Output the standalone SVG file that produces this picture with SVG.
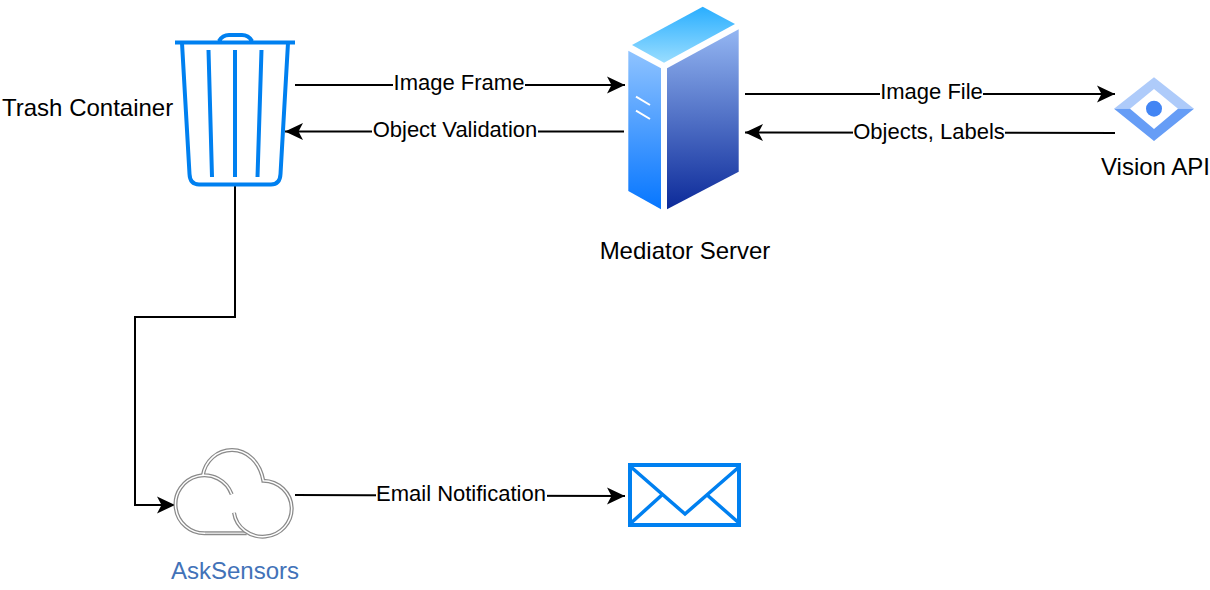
<svg xmlns="http://www.w3.org/2000/svg" width="1210" height="590" viewBox="0 0 1210 590">
<style>
text{font-family:"Liberation Sans",Arial,sans-serif;fill:#000}
.n{font-size:24px}
.l{font-size:22px;text-anchor:middle}
.c{fill:none;stroke:#000;stroke-width:2}
.b{fill:#fff}
.t{fill:none;stroke:#0080f0;stroke-width:4}
</style>
<defs>
<marker id="a" markerUnits="userSpaceOnUse" markerWidth="22" markerHeight="20" refX="20" refY="10" orient="auto"><path d="M20 10L2 1.500L6.500 10L2 18.500Z" fill="#000"/></marker>
<linearGradient id="g1" x1="0" y1="0" x2="0" y2="1"><stop offset="0" stop-color="#29aeff"/><stop offset="1" stop-color="#99ddff"/></linearGradient>
<linearGradient id="g2" x1="0" y1="0" x2="0" y2="1"><stop offset="0" stop-color="#8fc3ff"/><stop offset="1" stop-color="#0676ff"/></linearGradient>
<linearGradient id="g3" x1="0" y1="0" x2="0" y2="1"><stop offset="0" stop-color="#94b6f2"/><stop offset="1" stop-color="#0c2a99"/></linearGradient>
<path id="cl" d="M231.700 494.300A29 29 0 1 0 205 533.300M234 512.700A29 28 0 1 0 263.300 480.700C260 462 247 450 232 450C217 450 205 461 202.700 476"/>
</defs>
<g id="connectors">
<path class="c" marker-end="url(#a)" d="M295 85H625"/>
<path class="c" marker-end="url(#a)" d="M624 131.500H285"/>
<path class="c" marker-end="url(#a)" d="M745 94H1115"/>
<path class="c" marker-end="url(#a)" d="M1115 133L745 132.500"/>
<path class="c" marker-end="url(#a)" d="M235 185V317H135V505H175"/>
<path class="c" marker-end="url(#a)" d="M295 495L625 496"/>
</g>
<g id="labels">
<rect class="b" x="393" y="72" width="132" height="24"/><text class="l" x="459" y="90">Image Frame</text>
<rect class="b" x="372" y="118" width="166" height="24"/><text class="l" x="455" y="137">Object Validation</text>
<rect class="b" x="880" y="80" width="103" height="24"/><text class="l" x="931.500" y="99">Image File</text>
<rect class="b" x="853" y="121" width="152" height="24"/><text class="l" x="929" y="139">Objects, Labels</text>
<rect class="b" x="376" y="482" width="171" height="24"/><text class="l" x="461" y="501">Email Notification</text>
</g>
<g id="trash">
<path class="t" d="M175 42.500H295M219 41C222 36 225 35 229 35H242C246 35 249 36 252 41"/>
<path class="t" d="M182 43L189.500 174Q190 184.500 199 184.500H271Q280 184.500 280.500 174L288 43"/>
<path class="t" d="M208.500 50L212 177M235 50V177M261.500 50L257.500 177"/>
<text class="n" x="2" y="116">Trash Container</text>
</g>
<g id="server">
<path fill="url(#g1)" d="M632 45L702.700 6.700L735 24L664 62.700Z"/>
<path fill="url(#g2)" d="M628.300 50.700L661 68.300V209.300L628.300 191Z"/>
<path fill="url(#g3)" d="M667 68.300L738.700 29.300V171.700L667 209.300Z"/>
<path stroke="#fff" stroke-width="2" fill="none" d="M636 96.700L650 105M636 110.700L650 119"/>
<text class="n" x="685" y="259" text-anchor="middle">Mediator Server</text>
</g>
<g id="vision">
<path fill="#aecbfa" d="M1114 108.700L1154 77.300L1194 108.700H1178L1154 89L1130 108.700Z"/>
<path fill="#669df6" d="M1114 108.700H1130L1154 129L1178 108.700H1194L1154 141Z"/>
<circle cx="1154" cy="108.700" r="8" fill="#4285f4"/>
<text class="n" x="1155.500" y="175" text-anchor="middle">Vision API</text>
</g>
<g id="asksensors">
<path fill="none" stroke="#8a8a8a" stroke-width="4" d="M205 533.300H246.700"/>
<path fill="none" stroke="#dedede" stroke-width="1.500" d="M205 533.300H246.700"/>
<use href="#cl" fill="none" stroke="#8a8a8a" stroke-width="4"/>
<use href="#cl" fill="none" stroke="#fff" stroke-width="1.500"/>
<text class="n" x="235" y="579" text-anchor="middle" style="fill:#4272b8">AskSensors</text>
</g>
<g id="mail">
<rect x="630" y="465" width="109" height="60" fill="none" stroke="#0080f0" stroke-width="4"/>
<path fill="none" stroke="#0080f0" stroke-width="3.500" d="M631 467L685 514L739 467M631 523L663 494M739 523L706 494"/>
</g>
</svg>
